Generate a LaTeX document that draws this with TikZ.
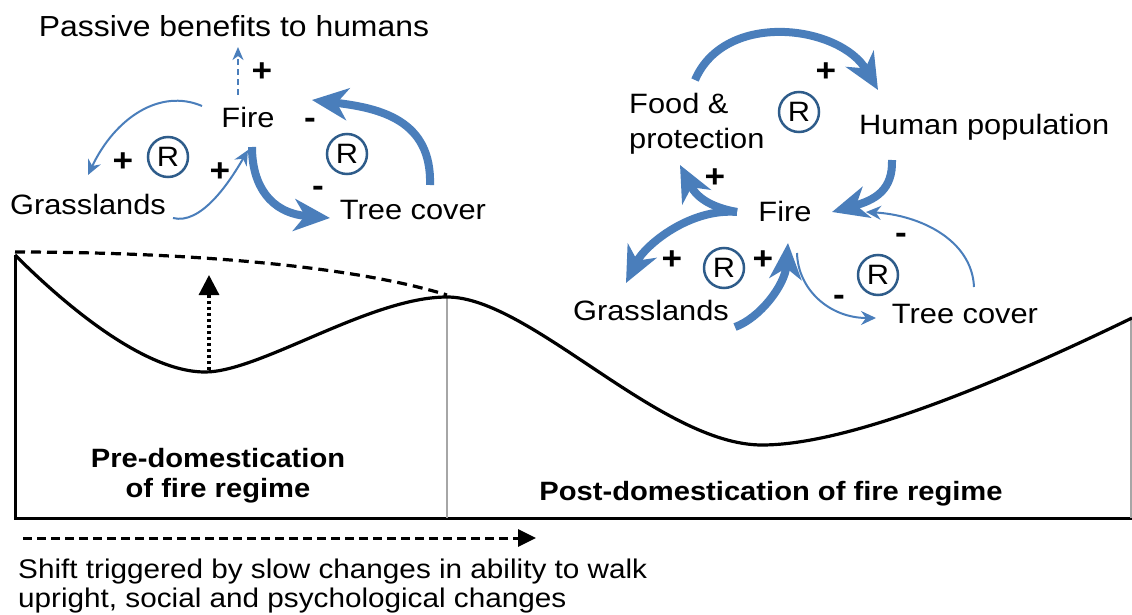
\documentclass[tikz,border=0pt]{standalone}
\usepackage{fontspec}
\setmainfont{Liberation Sans}[FakeStretch=1.1]
\usepackage{tikz}
\usetikzlibrary{arrows.meta}
\usetikzlibrary{calc}
\definecolor{loopblue}{RGB}{74,126,187}
\definecolor{ringblue}{RGB}{46,92,138}
\tikzset{
	label node/.style={inner sep=0pt,anchor=base,font=\fontsize{28}{35}\selectfont},
	r node/.style={circle,draw=ringblue,line width=2.5pt,minimum size=40pt,inner sep=0pt,font=\fontsize{28}{28}\selectfont},
	sign node/.style={inner sep=0pt,font=\fontsize{32}{32}\selectfont\bfseries},
	thick arrow/.style={draw=loopblue,line width=8pt,-{Stealth[length=36pt,width=32pt,inset=11pt]}},
	thin arrow/.style={draw=loopblue,line width=2pt,-{Stealth[length=15pt,width=14pt,inset=5pt]}},
	regime node/.style={inner sep=0pt,anchor=base,align=center,font=\fontsize{26.5}{30}\selectfont\bfseries}
}

\begin{document}
\begin{tikzpicture}[x=1pt,y=-1pt]
	\useasboundingbox (0,0) rectangle (1132,615);
	% landscape
	\draw[line width=3pt] (15,255) -- (15,518) -- (1132,518);
	\draw[gray!70,line width=1.5pt] (447,297) -- (447,518);
	\draw[gray!70,line width=1.5pt] (1131,318) -- (1131,518);
	\draw[line width=3.2pt] (15,255) .. controls (55,295) and (140,372) .. (205,372)
		.. controls (260,372) and (370,297) .. (447,297)
		.. controls (530,297) and (660,445) .. (762,445)
		.. controls (850,445) and (1002,381) .. (1132,318);
	\draw[line width=3.2pt,dash pattern=on 10pt off 6pt] (15,252) .. controls (180,252) and (350,265) .. (447,295);
	\draw[line width=3.2pt,dash pattern=on 3pt off 3pt,-{Triangle[length=20pt,width=20pt]}] (209,370) -- (209,275);
	\draw[line width=3pt,dash pattern=on 9pt off 5pt,-{Triangle[length=18pt,width=17pt]}] (23,538) -- (536,538);
	\node[regime node] (preL) at (218,497) {Pre-domestication\\of fire regime};
	\node[regime node] (postL) at (771,500) {Post-domestication of fire regime};
	\node[anchor=base west,align=left,inner sep=0pt,font=\fontsize{27}{29}\selectfont] (shift) at (18,607) {Shift triggered by slow changes in ability to walk\\upright, social and psychological changes};

	% loop before domestication
	\node[label node,font=\fontsize{29}{29}\selectfont] (passive) at (234,37) {Passive benefits to humans};
	\node[label node] (fireL) at (248,128) {Fire};
	\node[label node] (grassL) at (88,214) {Grasslands};
	\node[label node] (treeL) at (413,219) {Tree cover};
	\node[r node] (loopA) at (168,157) {R};
	\node[r node] (loopB) at (347,154) {R};
	\draw[loopblue,line width=2.6pt,dash pattern=on 6pt off 4pt,-{Stealth[length=13pt,width=11pt,inset=4pt]}] ($(fireL.base)+(-10,-33)$) -- ($(passive.base)+(4,10)$);
	\draw[thin arrow] ($(fireL.base)+(-46,-22)$) .. controls (160,88) and (115,118) .. ($(grassL.base)+(0,-39)$);
	\draw[thin arrow] ($(grassL.base)+(85,4)$) .. controls (200,225) and (228,185) .. ($(fireL.base)+(0,22)$);
	\draw[thick arrow] ($(fireL.base)+(4,19)$) .. controls (252,185) and (270,213) .. ($(treeL.base)+(-83,-1)$);
	\draw[thick arrow] ($(treeL.base)+(17,-34)$) .. controls (432,120) and (380,108) .. ($(fireL.base)+(64,-28)$);
	\node[sign node] (s1) at (262,72) {+};
	\node[sign node] (s2) at (123,162) {+};
	\node[sign node] (s3) at (220,172) {+};
	\node[sign node] (s4) at (310,123) {-};
	\node[sign node] (s5) at (318,191) {-};

	% loop after domestication
	\node[label node,anchor=base west,align=left] (food) at (629,148) {Food \&\\protection};
	\node[label node,anchor=base west] (human) at (859,135) {Human population};
	\node[label node] (fireR) at (785,221) {Fire};
	\node[label node] (grassR) at (651,320) {Grasslands};
	\node[label node] (treeR) at (965,323) {Tree cover};
	\node[r node] (loopC) at (799,112) {R};
	\node[r node] (loopD) at (724,268) {R};
	\node[r node] (loopE) at (878,275) {R};
	\draw[thick arrow] ($(food.base west)+(66,-68)$) .. controls (725,10) and (840,25) .. ($(human.base west)+(19,-45)$);
	\draw[thick arrow] ($(human.base west)+(33,25)$) .. controls (893,190) and (875,200) .. ($(fireR.base)+(47,-9)$);
	\draw[thin arrow] ($(treeR.base)+(9,-36)$) .. controls (972,240) and (920,215) .. ($(fireR.base)+(81,-9)$);
	\draw[thin arrow] ($(fireR.base)+(12,32)$) .. controls (798,290) and (830,318) .. ($(treeR.base)+(-89,-5)$);
	\draw[thick arrow] ($(grassR.base)+(84,7)$) .. controls (760,318) and (785,285) .. ($(fireR.base)+(3,22)$);
	\draw[thick arrow] ($(fireR.base)+(-48,-9)$) .. controls (690,208) and (645,245) .. ($(grassR.base)+(-25,-37)$);
	\draw[thick arrow] ($(fireR.base)+(-48,-9)$) .. controls (715,208) and (698,200) .. ($(food.base west)+(51,17)$);
	\node[sign node] (s6) at (826,72) {+};
	\node[sign node] (s7) at (715,178) {+};
	\node[sign node] (s8) at (672,260) {+};
	\node[sign node] (s9) at (763,260) {+};
	\node[sign node] (s10) at (901,238) {-};
	\node[sign node] (s11) at (839,300) {-};
\end{tikzpicture}
\end{document}
